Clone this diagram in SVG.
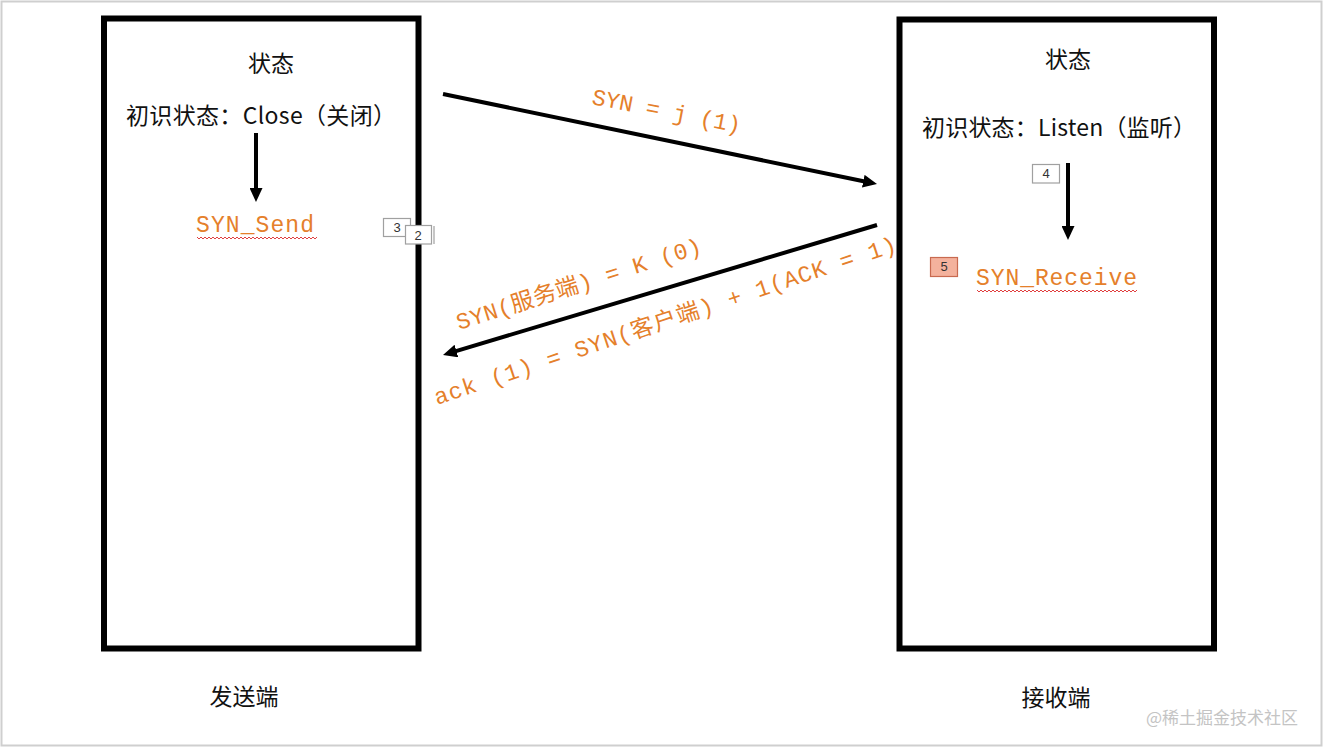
<svg xmlns="http://www.w3.org/2000/svg" width="1323" height="748" viewBox="0 0 1323 748">
<style>
.frame{fill:none;stroke:#000;stroke-width:6}
.t{font-family:"Noto Sans CJK SC","Liberation Sans",sans-serif;font-size:23px;fill:#111}
.o{font-family:"Liberation Mono","Noto Sans CJK SC",monospace;font-size:23px;fill:#E5802B}
.conn{stroke:#000;stroke-width:4;fill:none}
.tag{fill:#fff;stroke:#a0a0a0;stroke-width:1.2}
.tagt{font-family:"Liberation Sans","Noto Sans",sans-serif;font-size:13px;fill:#333;text-anchor:middle}
.wave{fill:none;stroke:#e04040;stroke-width:1}
</style>
<defs>
<marker id="ah" markerUnits="userSpaceOnUse" markerWidth="14" markerHeight="13" refX="4" refY="6.5" orient="auto">
<path d="M0,0 L14,6.5 L0,13 z" fill="#000"/>
</marker>
</defs>
<rect x="0" y="0" width="1323" height="748" fill="#fff"/>
<rect x="1.5" y="1.5" width="1320" height="744" fill="none" stroke="#cfcfcf" stroke-width="2"/>

<g id="labels-orange">
<text class="o" x="591" y="104" textLength="151" lengthAdjust="spacing" transform="rotate(11 591 104)">SYN = j (1)</text>
<text class="o" x="459" y="330" textLength="256" lengthAdjust="spacing" transform="rotate(-17.6 459 330)">SYN(服务端) = K (0)</text>
<text class="o" x="437" y="405" textLength="486" lengthAdjust="spacing" transform="rotate(-18.5 437 405)">ack (1)  = SYN(客户端) + 1(ACK = 1)</text>
</g>

<g id="sender">
<rect class="frame" x="104" y="18.5" width="314.5" height="630"/>
<text class="t" x="271" y="72" text-anchor="middle">状态</text>
<text class="t" x="126" y="124" textLength="270" lengthAdjust="spacing">初识状态：Close（关闭）</text>
<text class="o" x="196" y="232" font-size="24" textLength="118" lengthAdjust="spacing">SYN_Send</text>
<path class="wave" d="M197,237 l2,2 l2,-2 l2,2 l2,-2 l2,2 l2,-2 l2,2 l2,-2 l2,2 l2,-2 l2,2 l2,-2 l2,2 l2,-2 l2,2 l2,-2 l2,2 l2,-2 l2,2 l2,-2 l2,2 l2,-2 l2,2 l2,-2 l2,2 l2,-2 l2,2 l2,-2 l2,2 l2,-2 l2,2 l2,-2 l2,2 l2,-2 l2,2 l2,-2 l2,2 l2,-2 l2,2 l2,-2 l2,2 l2,-2 l2,2 l2,-2 l2,2 l2,-2 l2,2 l2,-2 l2,2 l2,-2 l2,2 l2,-2 l2,2 l2,-2 l2,2 l2,-2 l2,2 l2,-2 l2,2 l2,-2"/>
<text class="t" x="244" y="705" text-anchor="middle" font-size="24">发送端</text>
</g>

<g id="receiver">
<rect class="frame" x="899.5" y="19.5" width="314.5" height="629"/>
<text class="t" x="1068" y="68" text-anchor="middle">状态</text>
<text class="t" x="922" y="136" textLength="274" lengthAdjust="spacing">初识状态：Listen（监听）</text>
<text class="o" x="976" y="285" font-size="24" textLength="161" lengthAdjust="spacing">SYN_Receive</text>
<path class="wave" d="M977,290 l2,2 l2,-2 l2,2 l2,-2 l2,2 l2,-2 l2,2 l2,-2 l2,2 l2,-2 l2,2 l2,-2 l2,2 l2,-2 l2,2 l2,-2 l2,2 l2,-2 l2,2 l2,-2 l2,2 l2,-2 l2,2 l2,-2 l2,2 l2,-2 l2,2 l2,-2 l2,2 l2,-2 l2,2 l2,-2 l2,2 l2,-2 l2,2 l2,-2 l2,2 l2,-2 l2,2 l2,-2 l2,2 l2,-2 l2,2 l2,-2 l2,2 l2,-2 l2,2 l2,-2 l2,2 l2,-2 l2,2 l2,-2 l2,2 l2,-2 l2,2 l2,-2 l2,2 l2,-2 l2,2 l2,-2 l2,2 l2,-2 l2,2 l2,-2 l2,2 l2,-2 l2,2 l2,-2 l2,2 l2,-2 l2,2 l2,-2 l2,2 l2,-2 l2,2 l2,-2 l2,2 l2,-2 l2,2 l2,-2"/>
<text class="t" x="1056" y="706" text-anchor="middle" font-size="24">接收端</text>
</g>

<g id="tags">
<rect class="tag" x="383.5" y="218.5" width="27" height="18"/>
<text class="tagt" x="397" y="232">3</text>
<rect class="tag" x="405.5" y="225.5" width="26" height="18.5"/>
<line x1="434" y1="226" x2="434" y2="244" stroke="#a0a0a0" stroke-width="1.2"/>
<text class="tagt" x="418" y="240">2</text>
<rect class="tag" x="1032.5" y="164.5" width="27" height="18.5"/>
<text class="tagt" x="1046" y="178">4</text>
<rect x="930.5" y="257.5" width="27" height="19" fill="#F4B29D" stroke="#C86A50" stroke-width="1.2"/>
<text class="tagt" x="944" y="271">5</text>
</g>

<g id="connectors">
<line class="conn" x1="256" y1="133" x2="256" y2="192" marker-end="url(#ah)"/>
<line class="conn" x1="1068" y1="163" x2="1068" y2="230" marker-end="url(#ah)"/>
<line class="conn" x1="443" y1="94" x2="867.2" y2="182" marker-end="url(#ah)"/>
<line class="conn" x1="877" y1="225" x2="452.6" y2="352.1" marker-end="url(#ah)"/>
</g>

<text x="1222" y="724" text-anchor="middle" font-family="Noto Sans CJK SC, sans-serif" font-size="17" fill="#c4c4c4">@稀土掘金技术社区</text>
</svg>
